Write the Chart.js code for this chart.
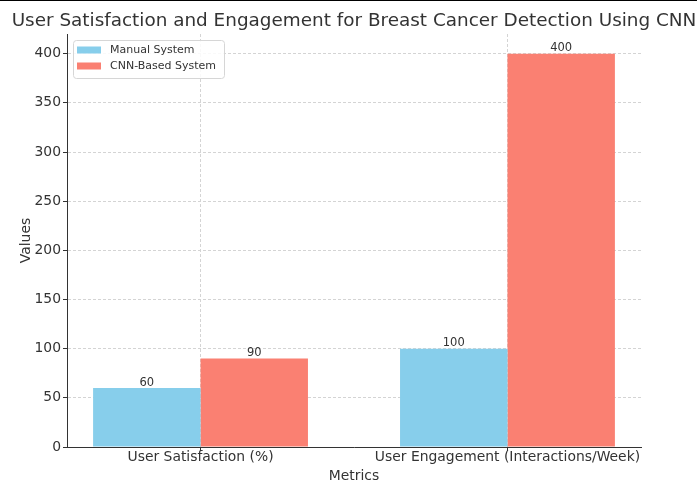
<!DOCTYPE html>
<html>
<head>
<meta charset="utf-8">
<script src="https://cdn.jsdelivr.net/npm/chart.js@4.4.1/dist/chart.umd.min.js"></script>
<style>
  html, body { margin: 0; padding: 0; background: #fff; }
  #wrap { width: 697px; height: 482px; position: relative; }
</style>
</head>
<body>
<div id="wrap"><canvas id="c" width="697" height="482"></canvas></div>
<script>
const chartTitle = "User Satisfaction and Engagement for Breast Cancer Detection Using CNN";
const categories = ["User Satisfaction (%)", "User Engagement (Interactions/Week)"];
const categoryPositions = [0, 1];
const manualValues = [60, 100];
const cnnValues = [90, 400];
const seriesNames = ["Manual System", "CNN-Based System"];
const seriesColors = ["#87CEEB", "#FA8072"];
const yTicks = [0, 50, 100, 150, 200, 250, 300, 350, 400];
const xAxisTitle = "Metrics";
const yAxisTitle = "Values";

const FONT = "'DejaVu Sans', sans-serif";
const TEXT = "#333";

function toPoints(vals) {
  return vals.map((v, i) => ({ x: categoryPositions[i], y: v }));
}

const overlay = {
  id: 'overlay',
  afterDatasetsDraw(chart) {
    const ctx = chart.ctx;
    const area = chart.chartArea;
    ctx.save();
    // value labels
    ctx.font = "11.5px " + FONT;
    ctx.fillStyle = TEXT;
    ctx.textAlign = 'center';
    ctx.textBaseline = 'alphabetic';
    chart.data.datasets.forEach((ds, di) => {
      const meta = chart.getDatasetMeta(di);
      meta.data.forEach((bar, i) => {
        ctx.fillText(String(ds.data[i].y), bar.x, bar.y - 2.5);
      });
    });
    // legend
    const lx = area.left + 6, ly = area.top + 6, lw = 151, lh = 38;
    ctx.beginPath();
    if (ctx.roundRect) ctx.roundRect(lx + 0.5, ly + 0.5, lw, lh, 3); else ctx.rect(lx + 0.5, ly + 0.5, lw, lh);
    ctx.fillStyle = 'rgba(255,255,255,0.85)';
    ctx.fill();
    ctx.strokeStyle = '#d6d6d6';
    ctx.lineWidth = 1;
    ctx.stroke();
    ctx.font = "11px " + FONT;
    ctx.textAlign = 'left';
    ctx.textBaseline = 'middle';
    chart.data.datasets.forEach((ds, di) => {
      const cy = ly + 10 + di * 16;
      ctx.fillStyle = ds.backgroundColor;
      ctx.fillRect(lx + 4, cy - 3.5, 24, 7);
      ctx.fillStyle = TEXT;
      ctx.fillText(ds.label, lx + 37, cy);
    });
    // title
    ctx.font = "18.4px " + FONT;
    ctx.fillStyle = TEXT;
    ctx.textAlign = 'center';
    ctx.textBaseline = 'middle';
    ctx.fillText(chartTitle, (area.left + area.right) / 2, 21);
    // top frame line
    ctx.fillStyle = '#000';
    ctx.fillRect(0, 0, chart.width, 1);
    ctx.restore();
  }
};

new Chart(document.getElementById('c'), {
  type: 'bar',
  data: {
    datasets: [
      { label: seriesNames[0], data: toPoints(manualValues), backgroundColor: seriesColors[0], borderWidth: 0 },
      { label: seriesNames[1], data: toPoints(cnnValues), backgroundColor: seriesColors[1], borderWidth: 0 }
    ]
  },
  options: {
    responsive: false,
    animation: false,
    devicePixelRatio: 1,
    layout: { padding: { top: 34, right: 56, left: 0, bottom: 0 } },
    plugins: { legend: { display: false }, title: { display: false }, tooltip: { enabled: false } },
    datasets: { bar: { categoryPercentage: 0.7, barPercentage: 1.0 } },
    scales: {
      x: {
        type: 'linear',
        min: -0.435,
        max: 1.435,
        offset: false,
        afterBuildTicks(scale) { scale.ticks = categoryPositions.map(v => ({ value: v })); },
        afterFit(scale) { scale.height = 35; },
        ticks: {
          autoSkip: false, maxRotation: 0, minRotation: 0, padding: -2,
          color: TEXT, font: { family: FONT, size: 13.9 },
          callback(value, index) { return categories[index]; }
        },
        grid: { offset: false, color: '#d4d4d4', lineWidth: 1, drawTicks: true, tickLength: 4, tickColor: '#333', tickBorderDash: [], tickWidth: 1 },
        border: { display: true, color: '#333', width: 1, dash: [3, 2] },
        title: { display: true, text: xAxisTitle, color: TEXT, font: { family: FONT, size: 13.9 }, padding: { top: 0, bottom: -3 } }
      },
      y: {
        type: 'linear',
        min: 0,
        max: 420,
        afterBuildTicks(scale) { scale.ticks = yTicks.map(v => ({ value: v })); },
        afterFit(scale) { scale.width = 67; },
        ticks: { color: TEXT, font: { family: FONT, size: 13.9 }, padding: 2 },
        grid: { color: '#d4d4d4', lineWidth: 1, drawTicks: true, tickLength: 4, tickColor: '#333', tickBorderDash: [], tickWidth: 1 },
        border: { display: true, color: '#333', width: 1, dash: [3, 2] },
        title: { display: true, text: yAxisTitle, color: TEXT, font: { family: FONT, size: 13.9 }, padding: { top: 18, bottom: 0 } }
      }
    }
  },
  plugins: [overlay]
});
</script>
</body>
</html>
